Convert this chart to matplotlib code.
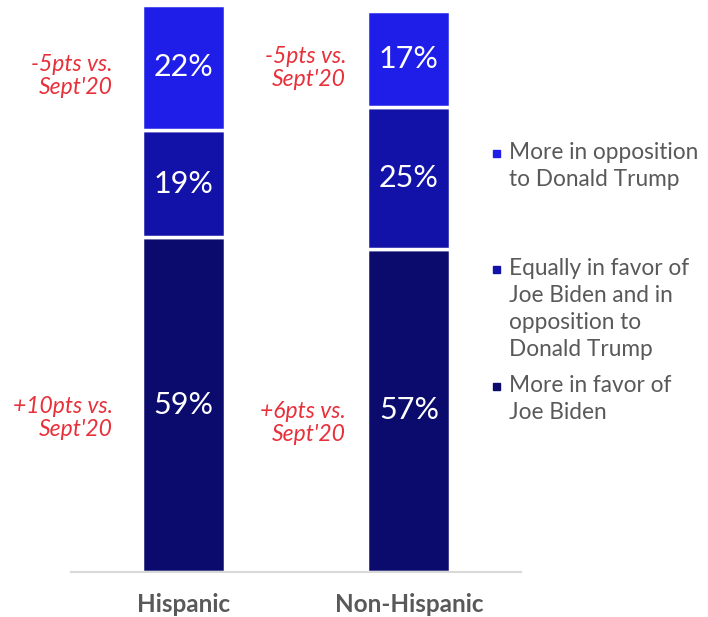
import matplotlib.pyplot as plt

categories = ["Hispanic", "Non-Hispanic"]
series_names = [
    "More in favor of\nJoe Biden",
    "Equally in favor of\nJoe Biden and in\nopposition to\nDonald Trump",
    "More in opposition\nto Donald Trump",
]
values = [
    [59, 57],   # more in favor of Biden
    [19, 25],   # equally
    [22, 17],   # more in opposition to Trump
]
colors = ["#0b0b6e", "#1212a8", "#1e1ee8"]
top_notes = ["-5pts vs.\nSept'20", "-5pts vs.\nSept'20"]
bottom_notes = ["+10pts vs.\nSept'20", "+6pts vs.\nSept'20"]

W, H = 708, 617
fig = plt.figure(figsize=(W / 100, H / 100), dpi=100)
ax = fig.add_axes([71 / W, (H - 572) / H, 450 / W, 567 / H])

x = [0, 1]
width = 0.368
bottoms = [0, 0]
for vals, col in zip(values, colors):
    bars = ax.bar(x, vals, width, bottom=bottoms, color=col,
                  edgecolor="white", linewidth=2.5)
    for b, v, bt in zip(bars, vals, bottoms):
        ax.text(b.get_x() + b.get_width() / 2, bt + v / 2, f"{v}%",
                ha="center", va="center", color="white", fontsize=22,
                family="Lato")
    bottoms = [a + b for a, b in zip(bottoms, vals)]

# red change notes to the left of the bars
red = "#e8303a"
note_gap = [0.13, 0.095]
for i in range(2):
    left = x[i] - width / 2 - note_gap[i]
    ax.text(left, values[0][i] / 2 - 2.3, bottom_notes[i], ha="right",
            va="center", color=red, fontsize=16.5, style="italic",
            family="Lato", linespacing=1.12)
    ax.text(left, values[0][i] + values[1][i] + values[2][i] / 2 - 1.6,
            top_notes[i], ha="right", va="center", color=red, fontsize=16.5,
            style="italic", family="Lato", linespacing=1.12)

ax.set_xlim(-0.499, 1.497)
ax.set_ylim(0, 100)
for s in ["top", "right", "left"]:
    ax.spines[s].set_visible(False)
ax.spines["bottom"].set_color("#d9d9d9")
ax.spines["bottom"].set_linewidth(1.5)
ax.set_yticks([])
ax.set_xticks(x)
ax.set_xticklabels(categories, fontsize=17.5, fontweight="bold",
                   color="#595959", family="Lato")
ax.tick_params(axis="x", length=0, pad=15)

# legend drawn by hand to follow the reference layout
gray = "#595959"
legend_y = [166, 309, 399]  # top-first order: opposition, equally, favor
for name, col, yc in zip(series_names[::-1], colors[::-1], legend_y):
    nlines = name.count("\n") + 1
    first = yc - (nlines - 1) * 26.5 / 2
    fig.patches.append(plt.Rectangle((493 / W, 1 - (first + 4) / H), 7 / W, 7 / H,
                                     transform=fig.transFigure, color=col))
    fig.text(509 / W, 1 - yc / H, name, ha="left", va="center", color=gray,
             fontsize=16.3, family="Lato", linespacing=1.35)

fig.savefig("out.png", dpi=100)
plt.close(fig)
